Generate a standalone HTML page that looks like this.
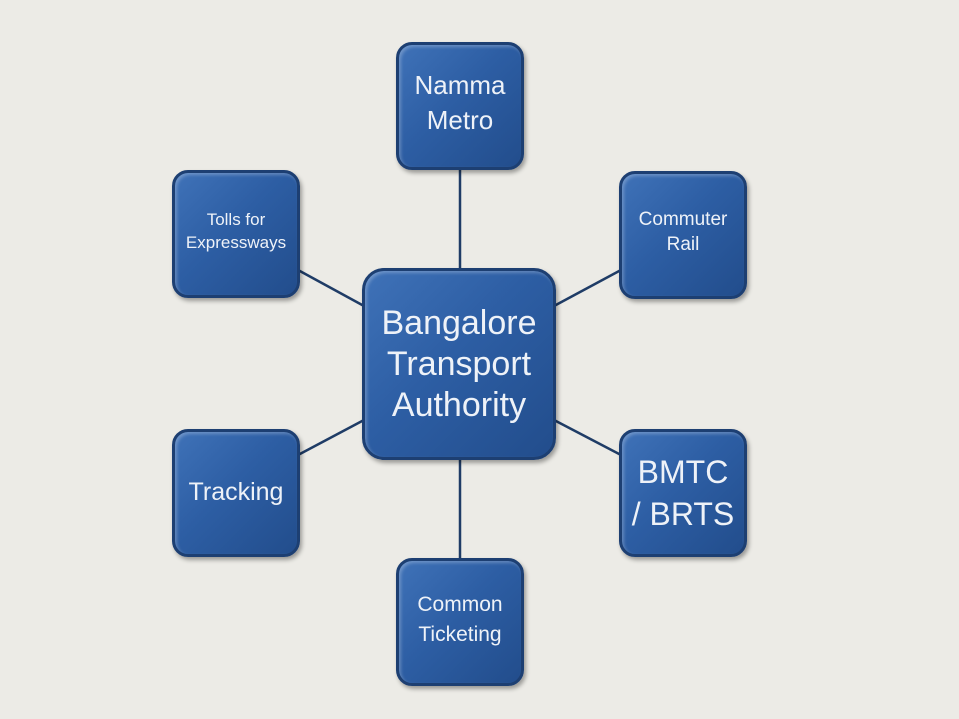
<!DOCTYPE html>
<html><head><style>
body{margin:0;width:959px;height:719px;background:#ecebe6;position:relative;overflow:hidden;font-family:"Liberation Sans",sans-serif;}
.b{position:absolute;box-sizing:border-box;border:3px solid #1d3f72;border-radius:16px;background:linear-gradient(135deg,#3f72b8 0%,#2d5ea4 45%,#224d8c 100%);box-shadow:2px 3px 4px rgba(0,0,0,.35),inset 2px 2px 3px rgba(255,255,255,.25);color:#eef2f8;display:flex;align-items:center;justify-content:center;text-align:center;line-height:1.18;}
svg{position:absolute;left:0;top:0}
</style></head><body>
<svg width="959" height="719"><g stroke="#1f3c66" stroke-width="2.5">
<line x1="460" y1="168" x2="460" y2="270"/><line x1="460" y1="458" x2="460" y2="560"/>
<line x1="298" y1="270" x2="364" y2="306"/><line x1="621" y1="270" x2="554" y2="306"/>
<line x1="298" y1="455" x2="364" y2="420"/><line x1="621" y1="455" x2="554" y2="420"/>
</g></svg>
<div class="b" style="left:396px;top:42px;width:128px;height:128px;font-size:26px;line-height:35px;padding-bottom:6px">Namma<br>Metro</div>
<div class="b" style="left:172px;top:170px;width:128px;height:128px;font-size:17px;line-height:23px;padding-bottom:6px">Tolls for<br>Expressways</div>
<div class="b" style="left:619px;top:171px;width:128px;height:128px;font-size:19px;line-height:25px;padding-bottom:6px">Commuter<br>Rail</div>
<div class="b" style="left:362px;top:268px;width:194px;height:192px;font-size:34px;line-height:41px;border-radius:22px">Bangalore<br>Transport<br>Authority</div>
<div class="b" style="left:172px;top:429px;width:128px;height:128px;font-size:25px">Tracking</div>
<div class="b" style="left:619px;top:429px;width:128px;height:128px;font-size:32px;line-height:42px">BMTC<br>/ BRTS</div>
<div class="b" style="left:396px;top:558px;width:128px;height:128px;font-size:21px;line-height:30px;padding-bottom:4px">Common<br>Ticketing</div>
</body></html>
